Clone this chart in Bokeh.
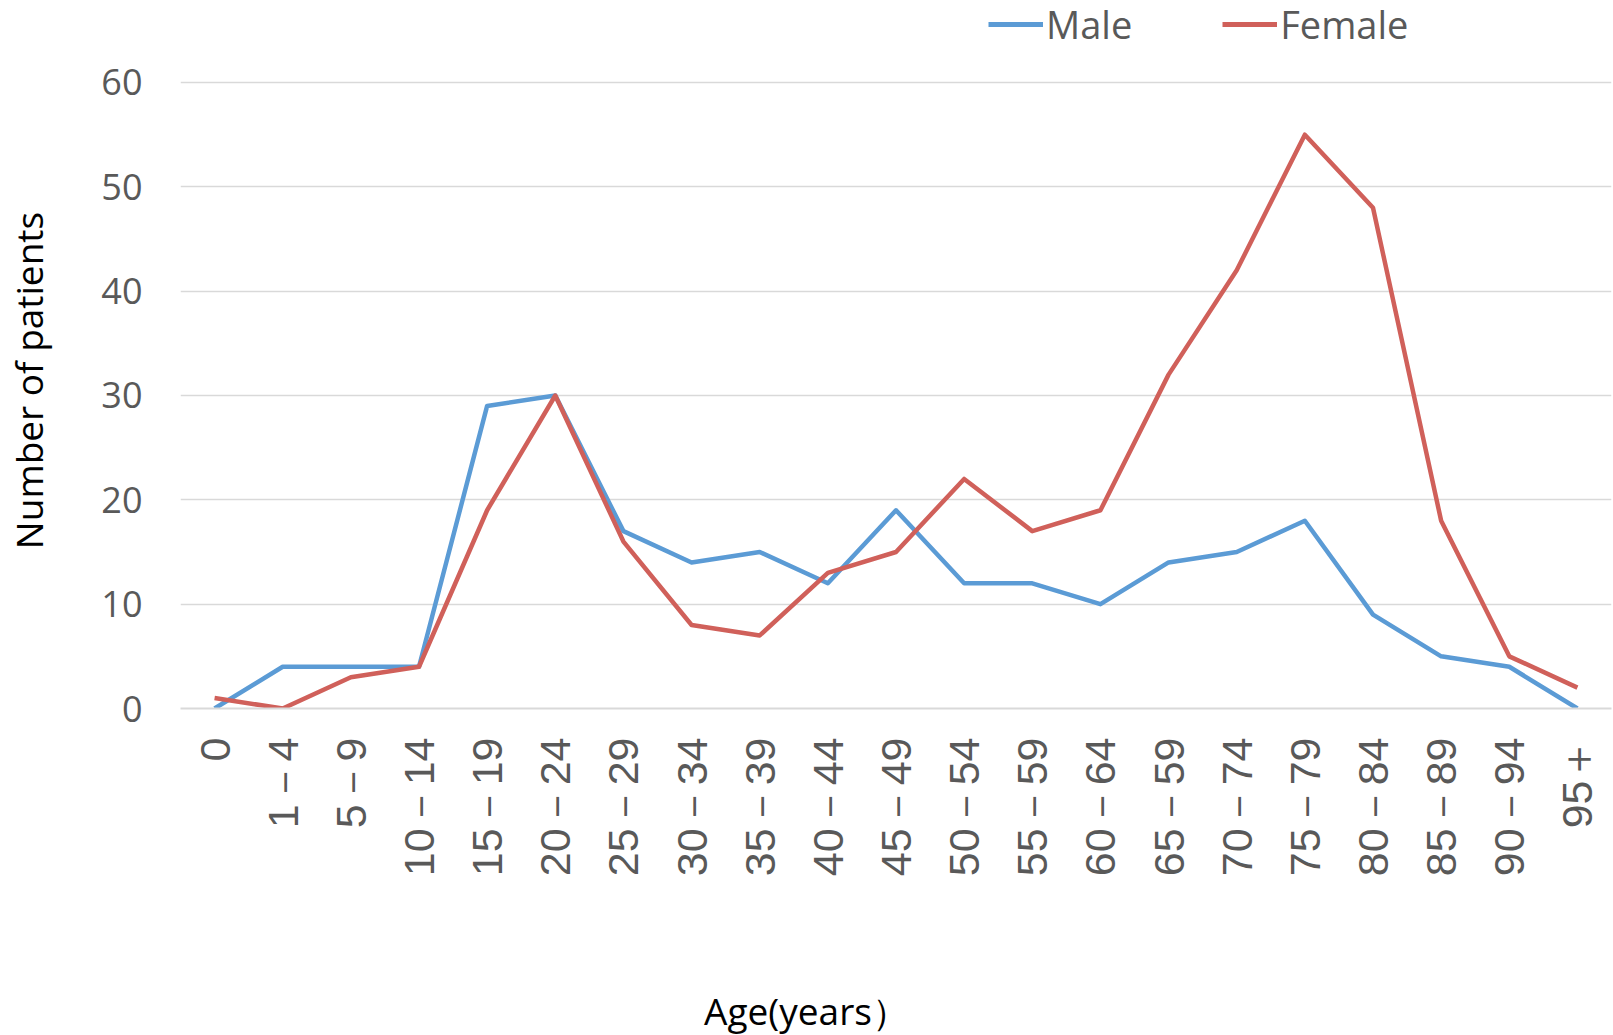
from bokeh.plotting import figure
from bokeh.layouts import column
from bokeh.models import FactorRange, Legend, LegendItem, FixedTicker, Range1d
from bokeh.core.properties import value
from bokeh.embed import file_html
from bokeh.resources import INLINE
from math import pi

categories = ["0", "1－4", "5－9", "10－14", "15－19", "20－24", "25－29", "30－34",
              "35－39", "40－44", "45－49", "50－54", "55－59", "60－64", "65－59",
              "70－74", "75－79", "80－84", "85－89", "90－94", "95＋"]
male = [0, 4, 4, 4, 29, 30, 17, 14, 15, 12, 19, 12, 12, 10, 14, 15, 18, 9, 5, 4, 0]
female = [1, 0, 3, 4, 19, 30, 16, 8, 7, 13, 15, 22, 17, 19, 32, 42, 55, 48, 18, 5, 2]
y_ticks = [0, 10, 20, 30, 40, 50, 60]
series_names = ["Male", "Female"]
x_title = "Age(years）"
y_title = "Number of patients"

BLUE = "#5B9BD5"
RED = "#D0605A"
GRID = "#D9D9D9"
TICK_TXT = "#595959"

W = 1613
LEFT, RIGHT = 180, 2
TOP_H = 52
MAIN_H = 836
BOT_H = 1035 - TOP_H - MAIN_H
X0, X1 = LEFT, W - RIGHT

# ---- legend strip ----
pt = figure(width=W, height=TOP_H, x_range=Range1d(X0, X1), y_range=Range1d(0, TOP_H),
            output_backend="svg", toolbar_location=None, min_border=0,
            min_border_left=LEFT, min_border_right=RIGHT,
            x_axis_location=None, y_axis_location=None)
pt.outline_line_color = None
pt.grid.visible = False
lm = pt.line(x=[-1000, -999], y=[-1000, -1000], line_color=BLUE, line_width=5)
lf = pt.line(x=[-1000, -999], y=[-1000, -1000], line_color=RED, line_width=5)
legend = Legend(items=[LegendItem(label=series_names[0], renderers=[lm]),
                       LegendItem(label=series_names[1], renderers=[lf])],
                orientation="horizontal", location=(988 - LEFT, 2),
                glyph_width=55, glyph_height=30, label_standoff=3, spacing=90,
                padding=0, margin=0, border_line_color=None,
                background_fill_alpha=0,
                label_text_font="Open Sans", label_text_font_size="38px",
                label_text_color=TICK_TXT)
pt.add_layout(legend, "center")

# ---- main chart ----
p = figure(width=W, height=MAIN_H, x_range=FactorRange(*categories, range_padding=0),
           y_range=Range1d(0, 62.875), output_backend="svg", toolbar_location=None,
           min_border_left=LEFT, min_border_right=RIGHT, min_border_top=0,
           min_border_bottom=180)
p.outline_line_color = None

p.line(categories, male, line_color=BLUE, line_width=4.5, line_join="round")
p.line(categories, female, line_color=RED, line_width=4.5, line_join="round")

p.yaxis.ticker = FixedTicker(ticks=y_ticks)
p.yaxis.axis_line_color = None
p.yaxis.major_tick_line_color = None
p.yaxis.minor_tick_line_color = None
p.yaxis.major_label_text_font = "Open Sans"
p.yaxis.major_label_text_font_size = "36px"
p.yaxis.major_label_text_color = TICK_TXT
p.yaxis.major_label_standoff = 32
p.yaxis.axis_label = y_title
p.yaxis.axis_label_text_font = "Open Sans"
p.yaxis.axis_label_text_font_size = "37px"
p.yaxis.axis_label_text_font_style = "normal"
p.yaxis.axis_label_text_color = "black"
p.yaxis.axis_label_standoff = 44

p.xaxis.axis_line_color = GRID
p.xaxis.axis_line_width = 2
p.xaxis.major_tick_line_color = None
p.xaxis.minor_tick_line_color = None
p.xaxis.major_label_orientation = pi / 2
p.xaxis.major_label_text_font = "Liberation Sans"
p.xaxis.major_label_text_font_size = "43px"
p.xaxis.major_label_text_color = TICK_TXT
p.xaxis.major_label_standoff = 23

p.xgrid.grid_line_color = None
p.ygrid.grid_line_color = GRID
p.ygrid.grid_line_width = 1.5

# ---- x title strip ----
pb = figure(width=W, height=BOT_H, x_range=Range1d(X0, X1), y_range=Range1d(0, BOT_H),
            output_backend="svg", toolbar_location=None, min_border=0,
            min_border_left=LEFT, min_border_right=RIGHT,
            x_axis_location=None, y_axis_location=None)
pb.outline_line_color = None
pb.grid.visible = False
pb.text(x=[806], y=[BOT_H - 122], text=[x_title], text_font=value("Open Sans"),
        text_font_size="37px", text_color="black", text_align="center",
        text_baseline="middle")

layout = column(pt, p, pb, spacing=0)
open("out.html", "w").write(file_html(layout, INLINE))
